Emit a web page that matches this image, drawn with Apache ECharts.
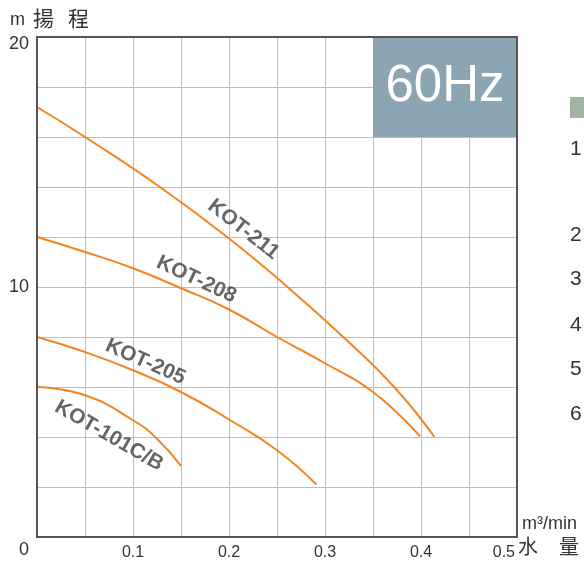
<!DOCTYPE html>
<html><head><meta charset="utf-8">
<script src="https://cdn.jsdelivr.net/npm/echarts@6/dist/echarts.min.js"></script>
<style>html,body{margin:0;padding:0;background:#fff}#c{width:584px;height:562px}</style>
</head><body><div id="c"></div>
<script>
// ---- data ----
const flow211 = [0, 0.05, 0.128, 0.198, 0.261, 0.319, 0.372, 0.414];
const head211 = [17.2, 16, 14, 12, 10, 8, 6, 4.0];
const flow208 = [0, 0.05, 0.1, 0.15, 0.2, 0.25, 0.3, 0.35, 0.399];
const head208 = [12, 11.4, 10.75, 9.95, 9.1, 8.0, 6.95, 5.8, 4.03];
const flow205 = [0, 0.05, 0.1, 0.15, 0.2, 0.25, 0.291];
const head205 = [8, 7.4, 6.67, 5.8, 4.7, 3.47, 2.1];
const flow101 = [0, 0.05, 0.1, 0.125, 0.15];
const head101 = [6, 5.67, 4.67, 3.93, 2.84];
const seriesNames = ['KOT-211', 'KOT-208', 'KOT-205', 'KOT-101C/B'];
// curve label anchors (flow, head)
const labelFlow = [0.215, 0.166, 0.113, 0.075];
const labelHead = [12.3, 10.3, 7.0, 4.05];
const labelAngle = [-38, -25, -24, -30];
const yTickLabels = [0, 10, 20];
const xTickLabels = [0.1, 0.2, 0.3, 0.4, 0.5];
const freqLabel = '60Hz';
const sideNumbers = ['1', '2', '3', '4', '5', '6'];

const zip = (xs, ys) => xs.map((x, i) => [x, ys[i]]);
const curves = [zip(flow211, head211), zip(flow208, head208), zip(flow205, head205), zip(flow101, head101)];

const chart = echarts.init(document.getElementById('c'), null, {renderer: 'canvas'});
const ORANGE = '#f5831f';
const FONT = '"Liberation Sans", Arial, sans-serif';
const CJK = '"Noto Sans CJK TC", sans-serif';

const lineSeries = curves.map((d, i) => ({
  name: seriesNames[i], type: 'line', data: d, smooth: 0.5,
  showSymbol: false, symbol: 'none',
  lineStyle: {color: ORANGE, width: 2}, z: 3, silent: true
}));

const labelSeries = {
  type: 'scatter', symbolSize: 0, z: 4, silent: true,
  data: seriesNames.map((n, i) => ({
    value: [labelFlow[i], labelHead[i]], name: n,
    label: {rotate: labelAngle[i]}
  })),
  label: {
    show: true, position: 'inside', formatter: p => p.name,
    fontFamily: FONT, fontWeight: 'bold', fontSize: 21, color: '#404040'
  }
};

const boxSeries = {
  type: 'line', data: [], z: 2, silent: true,
  markArea: {
    silent: true,
    itemStyle: {color: '#8ba6b2', opacity: 1},
    label: {show: true, position: 'inside', formatter: freqLabel, color: '#fff', fontSize: 51, fontFamily: FONT},
    data: [[{xAxis: 0.35, yAxis: 20}, {xAxis: 0.5, yAxis: 16}]]
  }
};

chart.setOption({
  backgroundColor: '#fff',
  animation: false,
  grid: {left: 37, right: 67, top: 37, bottom: 25, show: true, borderColor: '#555', borderWidth: 2, z: 5},
  xAxis: {
    type: 'value', min: 0, max: 0.5, interval: 0.05,
    axisLine: {show: true, lineStyle: {color: '#555', width: 2}},
    axisTick: {show: false},
    splitLine: {show: true, lineStyle: {color: '#bdbdbd', width: 1}},
    axisLabel: {
      showMinLabel: false, alignMaxLabel: 'right', margin: 8,
      fontSize: 16, fontFamily: FONT, color: '#333',
      formatter: v => {
        const r = Math.round(v * 100) / 100;
        if (!xTickLabels.some(t => Math.abs(t - r) < 1e-6)) return '';
        return r === 0.5 ? '{e|' + r + '}' : String(r);
      },
      rich: {e: {fontSize: 16, fontFamily: FONT, color: '#333', padding: [0, 2, 0, 0]}}
    }
  },
  yAxis: {
    type: 'value', min: 0, max: 20, interval: 2,
    axisLine: {show: true, lineStyle: {color: '#555', width: 2}},
    axisTick: {show: false},
    splitLine: {show: true, lineStyle: {color: '#bdbdbd', width: 1}},
    axisLabel: {
      margin: 8, fontSize: 18, fontFamily: FONT, color: '#333',
      formatter: v => {
        if (!yTickLabels.includes(v)) return '';
        if (v === 20) return '{t|' + v + '}';
        if (v === 0) return '{b|' + v + '}';
        return '{m|' + v + '}';
      },
      rich: {
        t: {fontSize: 18, fontFamily: FONT, color: '#333', padding: [14, 0, 0, 0]},
        b: {fontSize: 18, fontFamily: FONT, color: '#333', padding: [26, 0, 0, 0]},
        m: {fontSize: 18, fontFamily: FONT, color: '#333'}
      }
    }
  },
  series: [boxSeries, ...lineSeries, labelSeries],
  graphic: [
    {type: 'text', left: 10, top: 11, style: {text: 'm', font: '18px ' + FONT, fill: '#333'}},
    {type: 'text', left: 33, top: 8, style: {text: '揚', font: '21px ' + CJK, fill: '#333'}},
    {type: 'text', left: 68, top: 8, style: {text: '程', font: '21px ' + CJK, fill: '#333'}},
    {type: 'text', left: 522, top: 515, style: {text: 'm³/min', font: '18px ' + FONT, fill: '#333'}},
    {type: 'text', left: 518, top: 536, style: {text: '水', font: '20px ' + CJK, fill: '#333'}},
    {type: 'text', left: 559, top: 536, style: {text: '量', font: '20px ' + CJK, fill: '#333'}},
    {type: 'rect', left: 570, top: 97, shape: {width: 14, height: 21}, style: {fill: '#a2b4a2'}},
    ...sideNumbers.map((n, i) => ({
      type: 'text', left: 570, top: [139, 225, 269, 315, 359, 404][i],
      style: {text: n, font: '21px ' + FONT, fill: '#333'}
    }))
  ]
});
</script></body></html>
